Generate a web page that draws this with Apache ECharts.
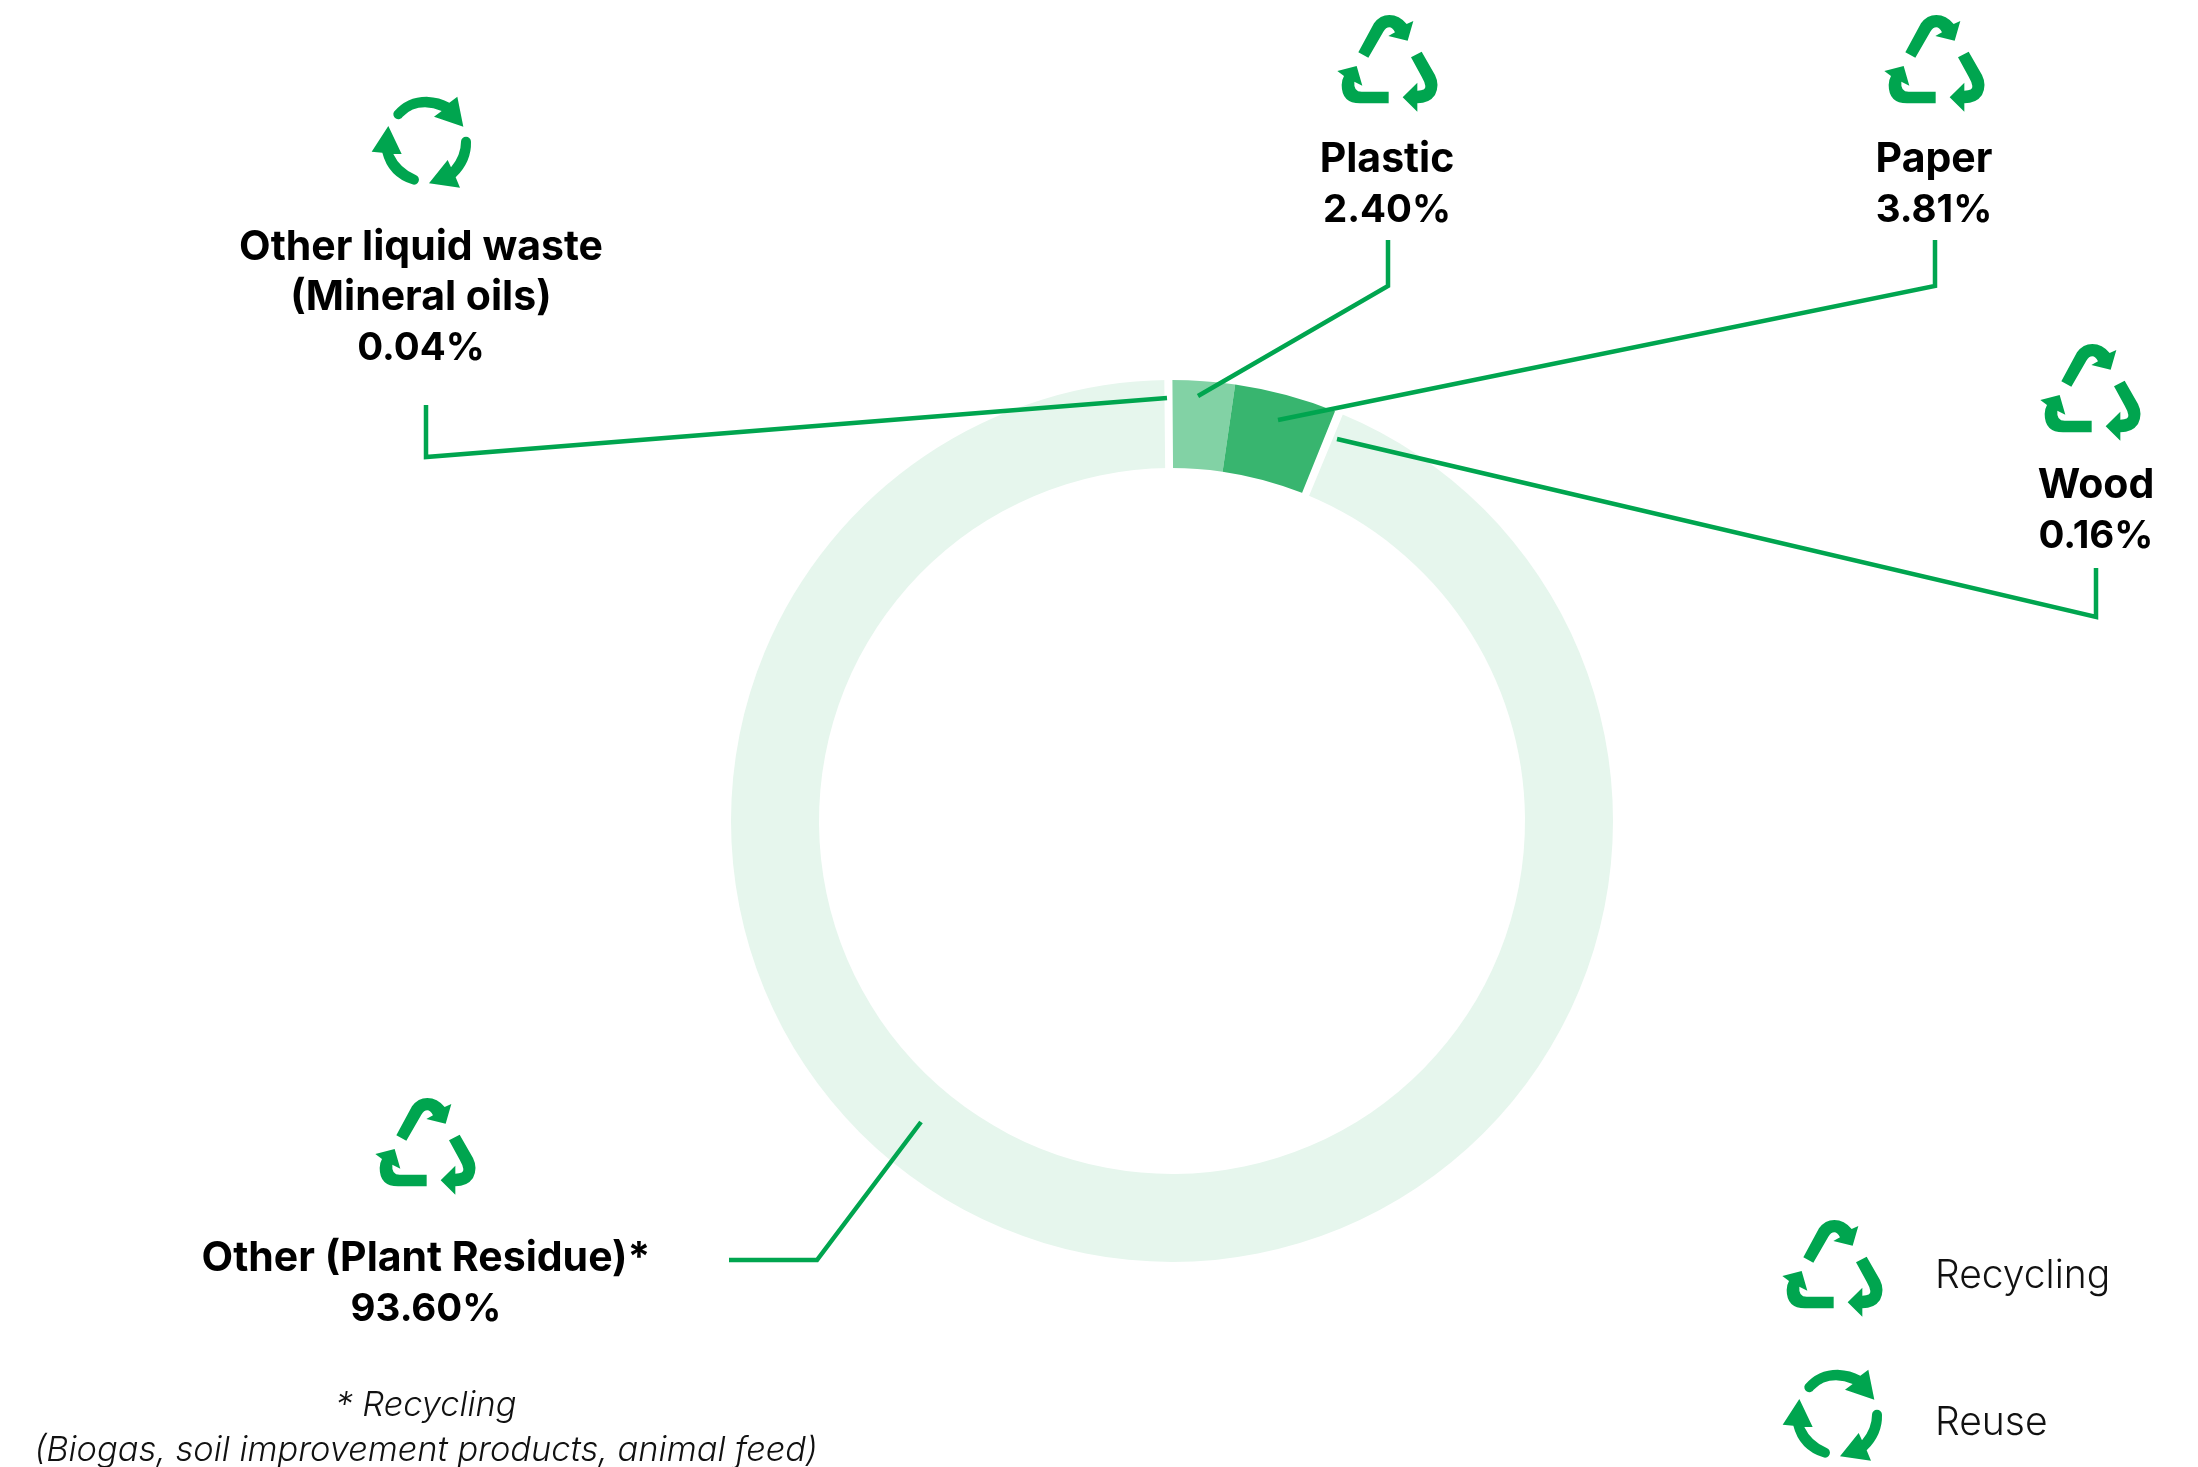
<!DOCTYPE html>
<html>
<head>
<meta charset="utf-8">
<style>html,body{margin:0;padding:0;background:#fff}#chart{width:2198px;height:1467px}</style>
<script src="https://cdn.jsdelivr.net/npm/echarts@6/dist/echarts.min.js"></script>
</head>
<body>
<div id="chart"></div>
<script>
// Waste streams, clockwise from twelve o'clock
const categories = ['Plastic', 'Paper', 'Wood', 'Other (Plant Residue)*', 'Other liquid waste\n(Mineral oils)'];
const shares = [2.40, 3.81, 0.16, 93.60, 0.04];
const sliceColors = ['#82D2A5', '#38B56F', '#FFFFFF', '#E6F6ED', '#FFFFFF'];
const footnote = '* Recycling\n(Biogas, soil improvement products, animal feed)';
const legendLabels = ['Recycling', 'Reuse'];

const GREEN = '#00A54F';
const FONT = 'Inter, "Liberation Sans", sans-serif';

// Icon outlines, 3 units to the pixel
const RECYCLE_PATH =
  'M175 157L222 70Q240 45 268 45Q298 45 320 72L340 63L323 122L265 108L285 97Q277 82 268 82Q258 82 250 95L205 173Z' +
  'M333 172L365 155L405 225Q420 255 405 285Q388 310 352 310L352 335L308 292L352 248L352 272Q378 272 376 258Q374 245 365 230Z' +
  'M266 275L266 310L180 310Q125 310 125 255Q125 240 132 228L112 213L170 198L187 257L163 245Q160 275 185 275Z';
const REUSE_PATH =
  'M132 95Q170 50 230 50Q270 52 298 68L322 50L340 140L252 110L275 93Q250 82 225 82Q185 82 158 110A15 15 0 0 1 132 95Z' +
  'M333 185Q333 225 303 262L293 240L237 310L330 323L317 292Q365 245 363 185A15 15 0 0 0 333 185Z' +
  'M197 285Q150 265 130 222L155 222L115 138L65 215L97 218Q115 290 187 313A14 14 0 0 0 197 285Z';

echarts.graphic.registerShape('recycleIcon', echarts.graphic.extendPath(RECYCLE_PATH));
echarts.graphic.registerShape('reuseIcon', echarts.graphic.extendPath(REUSE_PATH));

const iconPlacements = [
  { kind: 'recycleIcon', x: 1300, y: 0 },
  { kind: 'recycleIcon', x: 1847, y: 0 },
  { kind: 'recycleIcon', x: 2003, y: 329 },
  { kind: 'recycleIcon', x: 338, y: 1083 },
  { kind: 'reuseIcon', x: 350, y: 80 },
  { kind: 'recycleIcon', x: 1745, y: 1205 },
  { kind: 'reuseIcon', x: 1761, y: 1353 }
];

// Elbowed leaders running from each label to its slice
const leaders = [
  [[426, 405], [426, 457], [1167, 398]],
  [[1388, 240], [1388, 286], [1198, 396]],
  [[1935, 240], [1935, 286], [1278, 420]],
  [[2096, 568], [2096, 617], [1337, 439]],
  [[729, 1260], [817, 1260], [921, 1122]]
];

const labelSpots = {
  'Plastic': [1387, 185],
  'Paper': [1934, 185],
  'Wood': [2096, 511],
  'Other (Plant Residue)*': [426, 1284],
  'Other liquid waste\n(Mineral oils)': [421, 298]
};

const pieCentre = [1172, 821];
const pieRadius = [353, 441];
const startAngle = 90.4;

const graphic = [];
iconPlacements.forEach(function (ic) {
  graphic.push({
    type: ic.kind, x: ic.x, y: ic.y, scaleX: 1 / 3, scaleY: 1 / 3, silent: true,
    shape: {},
    style: { fill: GREEN }
  });
});
leaders.forEach(function (pts) {
  graphic.push({
    type: 'polyline', silent: true, shape: { points: pts },
    style: { stroke: GREEN, lineWidth: 4.5, fill: null, lineJoin: 'miter' }, z: 10
  });
});
graphic.push({
  type: 'text', x: 426, y: 1428, silent: true,
  style: {
    text: footnote, fill: '#111', font: 'italic 300 34.4px ' + FONT,
    lineHeight: 45, align: 'center', verticalAlign: 'middle'
  }
});
legendLabels.forEach(function (t, i) {
  graphic.push({
    type: 'text', x: 1935, y: [1276.5, 1423.5][i], silent: true,
    style: { text: t, fill: '#111', font: '300 39px ' + FONT, align: 'left', verticalAlign: 'middle' }
  });
});

const chart = echarts.init(document.getElementById('chart'), null, { renderer: 'canvas' });
chart.setOption({
  animation: false,
  backgroundColor: '#fff',
  graphic: graphic,
  series: [
    {
      type: 'pie',
      center: pieCentre,
      radius: pieRadius,
      startAngle: startAngle,
      clockwise: true,
      silent: true,
      avoidLabelOverlap: false,
      data: categories.map(function (name, i) {
        return { name: name, value: shares[i], itemStyle: { color: sliceColors[i] } };
      }),
      label: {
        show: true,
        position: 'outside',
        color: '#000',
        fontFamily: FONT,
        fontWeight: 700,
        lineHeight: 50.5,
        rich: {
          n: { fontFamily: FONT, fontWeight: 700, fontSize: 41, lineHeight: 50.5, color: '#000' },
          v: { fontFamily: FONT, fontWeight: 700, fontSize: 38.5, lineHeight: 50.5, color: '#000' }
        },
        formatter: function (p) {
          const nameLines = p.name.split('\n').map(function (l) { return '{n|' + l + '}'; });
          return nameLines.join('\n') + '\n{v|' + p.value.toFixed(2) + '%}';
        }
      },
      labelLine: { show: false },
      labelLayout: function (p) {
        const spot = labelSpots[categories[p.dataIndex]];
        return { x: spot[0], y: spot[1], align: 'center', verticalAlign: 'middle', hideOverlap: false };
      }
    },
    {
      // The two smallest slices read as white separators and sit above their neighbours
      type: 'pie',
      center: pieCentre,
      radius: pieRadius,
      startAngle: startAngle,
      clockwise: true,
      silent: true,
      label: { show: false },
      labelLine: { show: false },
      data: categories.map(function (name, i) {
        const sep = sliceColors[i] === '#FFFFFF';
        return {
          name: name, value: shares[i],
          itemStyle: sep
            ? { color: '#FFFFFF', borderColor: '#FFFFFF', borderWidth: shares[i] < 0.1 ? 7 : 4 }
            : { color: 'transparent', borderWidth: 0 }
        };
      })
    }
  ]
});
</script>
</body>
</html>
